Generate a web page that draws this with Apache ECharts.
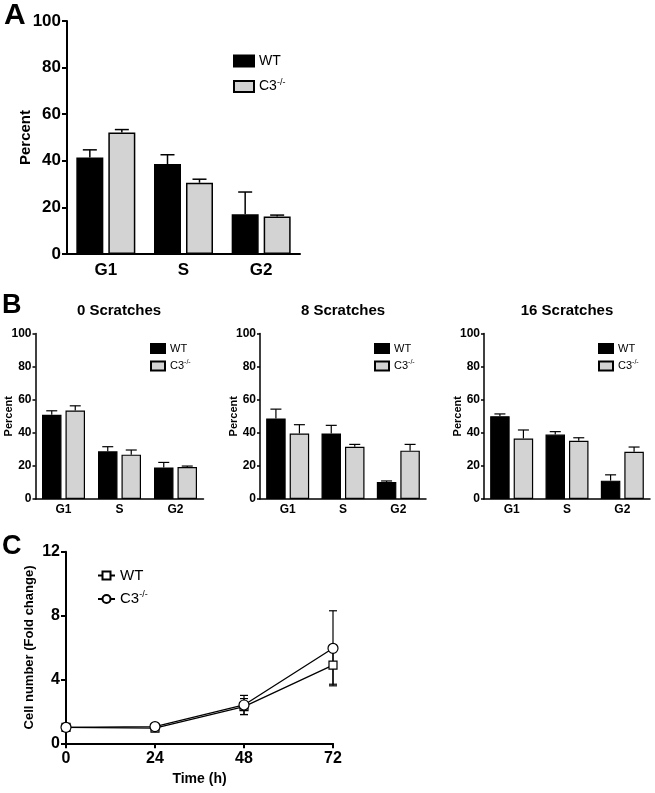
<!DOCTYPE html>
<html>
<head>
<meta charset="utf-8">
<script src="https://cdn.jsdelivr.net/npm/echarts@6/dist/echarts.min.js"></script>
<style>html,body{margin:0;padding:0;background:#fff;}#chart{width:655px;height:793px;}</style>
</head>
<body>
<div id="chart"></div>
<script>
// ---------- data ----------
const phaseCats = ['G1', 'S', 'G2'];
// Panel A
const aWT = [41.4, 38.6, 17.1];
const aWTerr = [3.3, 4.0, 9.5];
const aKO = [52.1, 30.6, 16.1];
const aKOerr = [1.3, 1.5, 0.6];
// Panel B
const b0WT = [50.9, 28.8, 19.1];
const b0WTerr = [2.4, 2.8, 3.0];
const b0KO = [53.5, 26.8, 19.3];
const b0KOerr = [2.8, 2.8, 0.6];
const b8WT = [48.7, 39.6, 10.3];
const b8WTerr = [5.6, 4.9, 0.6];
const b8KO = [39.6, 31.6, 29.2];
const b8KOerr = [5.3, 1.4, 3.8];
const b16WT = [50.0, 38.9, 11.1];
const b16WTerr = [1.4, 1.8, 3.5];
const b16KO = [36.6, 35.2, 28.5];
const b16KOerr = [5.1, 1.8, 2.9];
const bTitles = ['0 Scratches', '8 Scratches', '16 Scratches'];
// Panel C
const timeH = [0, 24, 48, 72];
const cWT = [1.0, 0.95, 2.3, 4.9];
const cWTerr = [0.03, 0.08, 0.5, 1.2];
const cKO = [1.0, 1.05, 2.4, 5.95];
const cKOerr = [0.03, 0.05, 0.6, 2.35];
const percentTicks = [0, 20, 40, 60, 80, 100];
const foldTicks = [0, 4, 8, 12];

// ---------- helpers ----------
const FONT = 'Liberation Sans, Arial, Helvetica, sans-serif';
const GRAY = '#d3d3d3';
const chart = echarts.init(document.getElementById('chart'), null, {renderer: 'canvas'});

function nameFmt(name) {
  if (name.indexOf('KO') >= 0) return '{n|C3}{s|-/-}';
  return '{n|WT}';
}
function richFor(fs) {
  return {
    n: {fontSize: fs, fontFamily: FONT, color: '#000', lineHeight: fs + 3},
    s: {fontSize: Math.round(fs * 0.62), fontFamily: FONT, color: '#000', verticalAlign: 'top', lineHeight: fs + 3}
  };
}

function barErr(bw, gap, side, capW, lw) {
  return function (params, api) {
    const c = api.coord([api.value(0), api.value(1)]);
    const t = api.coord([api.value(0), api.value(1) + api.value(2)]);
    const x = c[0] + side * (bw + gap) / 2;
    return {
      type: 'group',
      children: [
        {type: 'line', shape: {x1: x, y1: c[1], x2: x, y2: t[1]}, style: {stroke: '#000', lineWidth: lw}},
        {type: 'line', shape: {x1: x - capW / 2, y1: t[1], x2: x + capW / 2, y2: t[1]}, style: {stroke: '#000', lineWidth: lw}}
      ]
    };
  };
}
function lineErr(capW, lw) {
  return function (params, api) {
    const lo = api.coord([api.value(0), api.value(1) - api.value(2)]);
    const hi = api.coord([api.value(0), api.value(1) + api.value(2)]);
    const x = lo[0];
    return {
      type: 'group',
      children: [
        {type: 'line', shape: {x1: x, y1: lo[1], x2: x, y2: hi[1]}, style: {stroke: '#000', lineWidth: lw}},
        {type: 'line', shape: {x1: x - capW / 2, y1: hi[1], x2: x + capW / 2, y2: hi[1]}, style: {stroke: '#000', lineWidth: lw}},
        {type: 'line', shape: {x1: x - capW / 2, y1: lo[1], x2: x + capW / 2, y2: lo[1]}, style: {stroke: '#000', lineWidth: lw}}
      ]
    };
  };
}
function errData(vals, errs) { return vals.map((v, i) => [i, v, errs[i]]); }

// ---------- layout ----------
const grids = [
  {left: 67, top: 21, width: 233, height: 233},      // A
  {left: 35.5, top: 333.5, width: 168, height: 165.5}, // B0
  {left: 260, top: 333.5, width: 166, height: 165.5},// B8
  {left: 484, top: 333.5, width: 166, height: 165.5},// B16
  {left: 66, top: 551.7, width: 267, height: 191.6}  // C
];

const xAxes = [], yAxes = [], series = [], legends = [];

function percentPanel(idx, big, wt, wtE, ko, koE, prefix, legendLeft, legendTop) {
  const fs = big ? 17 : 12;
  const lw = big ? 2 : 1.5;
  const bw = big ? 27 : 19.5;
  const gap = big ? 5 : 4;
  xAxes.push({
    gridIndex: idx, type: 'category', data: phaseCats,
    axisLine: {lineStyle: {color: '#000', width: lw}},
    axisTick: {alignWithLabel: true, length: big ? 5 : 3, lineStyle: {color: '#000', width: lw}},
    axisLabel: {color: '#000', fontWeight: 'bold', fontSize: big ? 17 : 12, fontFamily: FONT, margin: big ? 8 : 5}
  });
  yAxes.push({
    gridIndex: idx, type: 'value', min: percentTicks[0], max: percentTicks[percentTicks.length - 1], interval: 20,
    name: 'Percent', nameLocation: 'middle', nameGap: big ? 34 : 21, nameMoveOverlap: false,
    nameTextStyle: {color: '#000', fontWeight: 'bold', fontSize: big ? 15 : 11, fontFamily: FONT},
    axisLine: {show: true, lineStyle: {color: '#000', width: lw}},
    axisTick: {show: true, length: big ? 5 : 3, lineStyle: {color: '#000', width: lw}},
    axisLabel: {color: '#000', fontWeight: 'bold', fontSize: fs, fontFamily: FONT, margin: big ? 6 : 4},
    splitLine: {show: false}
  });
  const bl = big ? 1.5 : 1.2;
  series.push({
    name: prefix + 'WT', type: 'bar', xAxisIndex: idx, yAxisIndex: idx, data: wt,
    barWidth: bw, barGap: (gap / bw * 100).toFixed(1) + '%',
    itemStyle: {color: '#000', borderColor: '#000', borderWidth: bl}
  });
  series.push({
    name: prefix + 'KO', type: 'bar', xAxisIndex: idx, yAxisIndex: idx, data: ko,
    barWidth: bw, barGap: (gap / bw * 100).toFixed(1) + '%',
    itemStyle: {color: GRAY, borderColor: '#000', borderWidth: bl}
  });
  const capW = big ? 14 : 11;
  const elw = big ? 1.5 : 1.2;
  series.push({
    type: 'custom', xAxisIndex: idx, yAxisIndex: idx, z: 5, silent: true,
    renderItem: barErr(bw, gap, -1, capW, elw), data: errData(wt, wtE), encode: {x: 0, y: 1}
  });
  series.push({
    type: 'custom', xAxisIndex: idx, yAxisIndex: idx, z: 5, silent: true,
    renderItem: barErr(bw, gap, 1, capW, elw), data: errData(ko, koE), encode: {x: 0, y: 1}
  });
  const lfs = big ? 14 : 11;
  legends.push({
    data: [prefix + 'WT', prefix + 'KO'], orient: 'vertical', left: legendLeft, top: legendTop,
    padding: 0,
    itemWidth: big ? 20 : 14, itemHeight: big ? 11 : 9, itemGap: big ? 10 : 5,
    selectedMode: false, formatter: nameFmt,
    textStyle: {rich: richFor(lfs), padding: [0, 0, 0, 0]},
    icon: 'rect'
  });
}

percentPanel(0, true, aWT, aWTerr, aKO, aKOerr, 'A_', 233, 54);
percentPanel(1, false, b0WT, b0WTerr, b0KO, b0KOerr, 'B0_', 150, 343);
percentPanel(2, false, b8WT, b8WTerr, b8KO, b8KOerr, 'B8_', 374, 343);
percentPanel(3, false, b16WT, b16WTerr, b16KO, b16KOerr, 'B16_', 598, 343);

// Panel C
xAxes.push({
  gridIndex: 4, type: 'value', min: 0, max: 72, interval: 24,
  name: 'Time (h)', nameLocation: 'middle', nameGap: 29, nameMoveOverlap: false,
  nameTextStyle: {color: '#000', fontWeight: 'bold', fontSize: 14, fontFamily: FONT},
  axisLine: {lineStyle: {color: '#000', width: 2}},
  axisTick: {length: 5, lineStyle: {color: '#000', width: 2}},
  axisLabel: {color: '#000', fontWeight: 'bold', fontSize: 16, fontFamily: FONT, margin: 7},
  splitLine: {show: false}
});
yAxes.push({
  gridIndex: 4, type: 'value', min: foldTicks[0], max: foldTicks[foldTicks.length - 1], interval: 4,
  name: 'Cell number (Fold change)', nameLocation: 'middle', nameGap: 30, nameMoveOverlap: false,
  nameTextStyle: {color: '#000', fontWeight: 'bold', fontSize: 13, fontFamily: FONT},
  axisLine: {show: true, lineStyle: {color: '#000', width: 2}},
  axisTick: {show: true, length: 5, lineStyle: {color: '#000', width: 2}},
  axisLabel: {color: '#000', fontWeight: 'bold', fontSize: 16, fontFamily: FONT, margin: 6},
  splitLine: {show: false}
});
series.push({
  type: 'custom', xAxisIndex: 4, yAxisIndex: 4, z: 1, silent: true,
  renderItem: lineErr(8, 1.2), data: timeH.map((t, i) => [t, cWT[i], cWTerr[i]]), encode: {x: 0, y: 1}
});
series.push({
  type: 'custom', xAxisIndex: 4, yAxisIndex: 4, z: 1, silent: true,
  renderItem: lineErr(8, 1.2), data: timeH.map((t, i) => [t, cKO[i], cKOerr[i]]), encode: {x: 0, y: 1}
});
series.push({
  name: 'C_WT', type: 'line', xAxisIndex: 4, yAxisIndex: 4, z: 3,
  data: timeH.map((t, i) => [t, cWT[i]]),
  symbol: 'rect', symbolSize: 8, showAllSymbol: true,
  lineStyle: {color: '#000', width: 1.3},
  itemStyle: {color: '#fff', borderColor: '#000', borderWidth: 1.2}
});
series.push({
  name: 'C_KO', type: 'line', xAxisIndex: 4, yAxisIndex: 4, z: 4,
  data: timeH.map((t, i) => [t, cKO[i]]),
  symbol: 'circle', symbolSize: 10, showAllSymbol: true,
  lineStyle: {color: '#000', width: 1.3},
  itemStyle: {color: '#fff', borderColor: '#000', borderWidth: 1.2}
});
legends.push({
  data: ['C_WT', 'C_KO'], orient: 'vertical', left: 97, top: 568, padding: 0,
  itemWidth: 17, itemHeight: 10, itemGap: 7, selectedMode: false,
  formatter: nameFmt, textStyle: {rich: richFor(15)}
});

// texts
const graphics = [
  {type: 'text', left: 4, top: 1, style: {text: 'A', font: 'bold 30px ' + FONT, fill: '#000'}},
  {type: 'text', left: 2, top: 292, style: {text: 'B', font: 'bold 27px ' + FONT, fill: '#000'}},
  {type: 'text', left: 2, top: 533, style: {text: 'C', font: 'bold 27px ' + FONT, fill: '#000'}}
];
const bCenters = [119, 343, 567];
bTitles.forEach((t, i) => {
  graphics.push({type: 'text', x: bCenters[i], y: 311,
    style: {text: t, font: 'bold 15px ' + FONT, fill: '#000', textAlign: 'center', textVerticalAlign: 'middle'}});
});

chart.setOption({
  animation: false,
  backgroundColor: '#fff',
  textStyle: {fontFamily: FONT},
  grid: grids,
  xAxis: xAxes,
  yAxis: yAxes,
  legend: legends,
  series: series,
  graphic: graphics
});
</script>
</body>
</html>
